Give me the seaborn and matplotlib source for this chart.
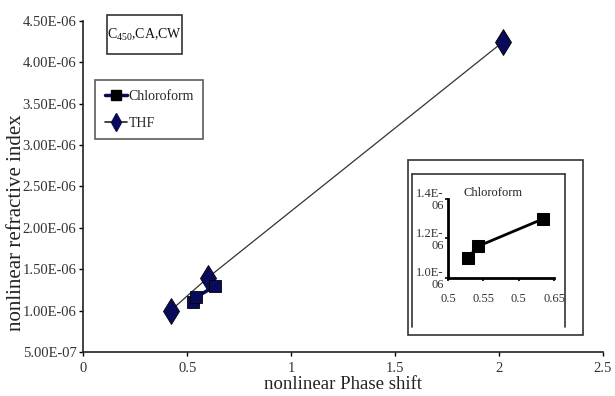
import matplotlib
matplotlib.use("Agg")
import matplotlib.pyplot as plt
import seaborn as sns
import pandas as pd
from matplotlib.lines import Line2D
from matplotlib.patches import Rectangle

sns.set_theme(style="white")
plt.rcParams["font.family"] = ["Liberation Serif", "DejaVu Serif"]

# Chloroform measurements
chl_phase = [0.528, 0.542, 0.635]
chl_n2 = [1.10e-6, 1.16e-6, 1.30e-6]

# THF measurements
thf_phase = [0.42, 0.60, 2.02]
thf_n2 = [1.00e-6, 1.40e-6, 4.25e-6]

y_ticks = [5e-7, 1e-6, 1.5e-6, 2e-6, 2.5e-6, 3e-6, 3.5e-6, 4e-6, 4.5e-6]
y_tick_labels = ["5.00E-07", "1.00E-06", "1.50E-06", "2.00E-06", "2.50E-06",
                 "3.00E-06", "3.50E-06", "4.00E-06", "4.50E-06"]
x_ticks = [0, 0.5, 1, 1.5, 2, 2.5]
x_tick_labels = ["0", "0.5", "1", "1.5", "2", "2.5"]

inset_x_ticks = [0.5, 0.55, 0.6, 0.65]
inset_x_labels = ["0.5", "0.55", "0.5", "0.65"]
inset_y_ticks = [1.0e-6, 1.2e-6, 1.4e-6]
inset_y_labels = ["1.0E-\n06", "1.2E-\n06", "1.4E-\n06"]

chl = pd.DataFrame({"phase": chl_phase, "n2": chl_n2})
thf = pd.DataFrame({"phase": thf_phase, "n2": thf_n2})

W, H = 615, 396
fig = plt.figure(figsize=(W / 100, H / 100), dpi=100)


def fx(px):
    return px / W


def fy(py):
    return 1 - py / H


navy = "#0a0a5a"
ink = "#333333"

ax = fig.add_axes([fx(83.3), fy(352), fx(603) - fx(83.3), fy(21) - fy(352)])
sns.lineplot(data=thf, x="phase", y="n2", ax=ax, sort=False, color="#333333",
             lw=0.9, marker="d", markersize=13, markerfacecolor=navy,
             markeredgecolor="black", markeredgewidth=0.6)
sns.lineplot(data=chl, x="phase", y="n2", ax=ax, sort=False, color=navy,
             lw=2.5, marker="s", markersize=9, markerfacecolor=navy,
             markeredgecolor="black", markeredgewidth=0.6)
ax.set_xlim(0, 2.5)
ax.set_ylim(5e-7, 4.5e-6)
ax.set_xticks(x_ticks)
ax.set_xticklabels(x_tick_labels)
ax.set_yticks(y_ticks)
ax.set_yticklabels(y_tick_labels)
ax.tick_params(axis="both", direction="out", length=3, width=1, color="black",
               labelsize=10.5, labelcolor=ink, pad=2, left=True, bottom=True)
ax.tick_params(axis="x", pad=4)
for side in ("top", "right"):
    ax.spines[side].set_visible(False)
for side in ("left", "bottom"):
    ax.spines[side].set_color("#222222")
    ax.spines[side].set_linewidth(1.2)
ax.set_xlabel("nonlinear Phase shift", fontsize=13.5, color="#222222", labelpad=1)
ax.set_ylabel("nonlinear refractive index", fontsize=15, color="#222222")
ax.yaxis.set_label_coords(-0.11, 0.39)

# Sample label box
fig.add_artist(Rectangle((fx(107), fy(54)), fx(182) - fx(107), fy(15) - fy(54),
                         transform=fig.transFigure, fill=False, ec=ink, lw=1.2))
fig.text(fx(144.5), fy(35), r"C$_{\mathregular{450}}$,CA,CW", fontsize=10,
         ha="center", va="center", color="#111111")

# Legend
handles = [
    Line2D([], [], color=navy, lw=2.5, marker="s", markersize=7,
           markerfacecolor="black", markeredgecolor="black"),
    Line2D([], [], color="#222222", lw=1.2, marker="d", markersize=9,
           markerfacecolor=navy, markeredgecolor=navy),
]
leg = fig.legend(handles, ["Chloroform", "THF"], loc="upper left",
                 bbox_to_anchor=(fx(95), fy(80)), fontsize=10, frameon=True,
                 fancybox=False, edgecolor=ink, handlelength=1.6,
                 handletextpad=0.1, borderpad=0.7, labelspacing=1.0,
                 borderaxespad=0)
leg.get_frame().set_linewidth(1.2)

# Inset frames
fig.add_artist(Rectangle((fx(408), fy(335)), fx(583) - fx(408), fy(160) - fy(335),
                         transform=fig.transFigure, fill=False, ec=ink, lw=1.2))
for xs, ys in [([412, 412], [327, 174]), ([412, 565], [174, 174]), ([565, 565], [174, 327])]:
    fig.add_artist(Line2D([fx(v) for v in xs], [fy(v) for v in ys],
                          transform=fig.transFigure, color=ink, lw=1.2))

# Inset with chloroform detail
ax2 = fig.add_axes([fx(448), fy(278), fx(554) - fx(448), fy(199) - fy(278)])
sns.lineplot(data=chl, x="phase", y="n2", ax=ax2, sort=False, color="black",
             lw=2, marker="s", markersize=8, markerfacecolor="black",
             markeredgecolor="black")
ax2.set_xlim(0.5, 0.65)
ax2.set_ylim(1.0e-6, 1.4e-6)
ax2.set_xticks(inset_x_ticks)
ax2.set_xticklabels(inset_x_labels)
ax2.set_yticks(inset_y_ticks)
ax2.set_yticklabels(inset_y_labels, linespacing=1.0)
ax2.tick_params(axis="both", direction="out", length=2, width=1.2, color="black",
                labelsize=9, labelcolor=ink, pad=1, left=True, bottom=True)
ax2.tick_params(axis="x", pad=9)
ax2.set_xlabel("")
ax2.set_ylabel("")
ax2.patch.set_alpha(0)
for side in ("top", "right"):
    ax2.spines[side].set_visible(False)
for side in ("left", "bottom"):
    ax2.spines[side].set_color("black")
    ax2.spines[side].set_linewidth(2)
ax2.text(0.5215, 1.43e-6, "Chloroform", fontsize=9, color="#222222",
         ha="left", va="center", clip_on=False)

fig.savefig("out.png", dpi=100)
